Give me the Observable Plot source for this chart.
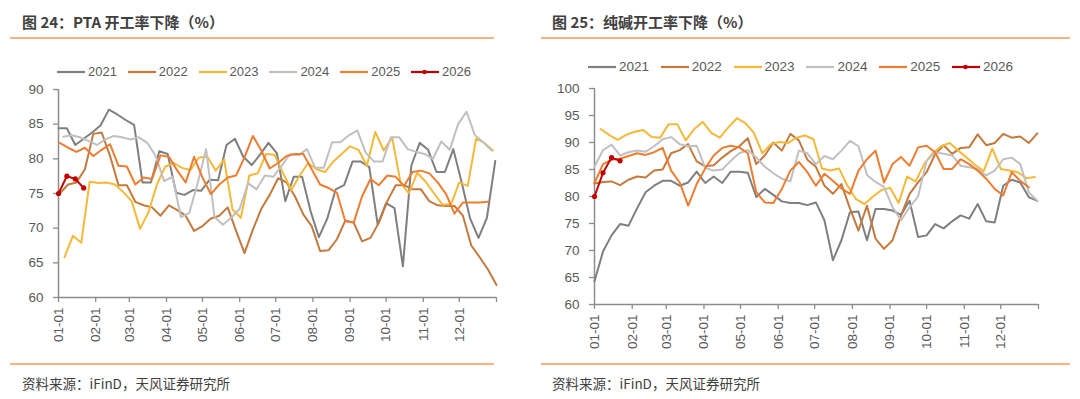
<!DOCTYPE html>
<html><head><meta charset="utf-8">
<script src="https://cdn.jsdelivr.net/npm/d3@7"></script>
<script src="https://cdn.jsdelivr.net/npm/@observablehq/plot@0.6"></script>
<style>
html,body{margin:0;padding:0;background:#fff;}
body{width:1080px;height:399px;position:relative;overflow:hidden;font-family:"Liberation Sans",Arial,sans-serif;}
.title{position:absolute;top:11px;font-family:"Noto Sans CJK SC","Noto Sans",sans-serif;font-weight:bold;font-size:15px;line-height:22px;color:#404040;white-space:nowrap;}
.rule{position:absolute;height:1.5px;background:#f4b183;}
.caption{position:absolute;top:373px;font-family:"Noto Sans CJK SC","Noto Sans",sans-serif;font-size:13.5px;line-height:20px;color:#404040;white-space:nowrap;}
.legend{position:absolute;height:14px;}
.legend .item{position:absolute;top:0;height:14px;display:flex;align-items:center;color:#595959;}
.legend .item span{margin-left:3px;line-height:14px;}
.chart{position:absolute;top:80px;}
</style>
</head><body>
<div class="title" style="left:22px">图 24：PTA 开工率下降（%）</div>
<div class="title" style="left:552px">图 25：纯碱开工率下降（%）</div>
<div class="rule" style="left:10px;width:484px;top:37px"></div>
<div class="rule" style="left:541px;width:529px;top:37px"></div>
<div class="legend" id="legL" style="left:0;top:65px"></div>
<div class="legend" id="legR" style="left:0;top:60px"></div>
<div class="chart" id="chartL" style="left:0"></div>
<div class="chart" id="chartR" style="left:540px"></div>
<div class="rule" style="left:10px;width:484px;top:363px"></div>
<div class="rule" style="left:541px;width:529px;top:363px"></div>
<div class="caption" style="left:22px">资料来源：iFinD，天风证券研究所</div>
<div class="caption" style="left:552px">资料来源：iFinD，天风证券研究所</div>
<script>
// ---- shared categories ----
const years = ["2021", "2022", "2023", "2024", "2025", "2026"];
const colors = ["#7f7f7f", "#c47a3e", "#f5b93a", "#c0c0c0", "#ed7d31", "#c00000"];
const monthLabels = ["01-01","02-01","03-01","04-01","05-01","06-01","07-01","08-01","09-01","10-01","11-01","12-01"];

// ---- PTA operating rate (%), weekly ----
const ptaStartDay = [0, 1, 5, 4, 1, 0];
const pta2021 = [84.4,84.4,82.0,82.9,83.8,84.8,87.1,86.4,85.6,84.9,76.6,76.6,81.1,80.7,75.1,74.8,75.5,75.4,77.0,76.9,82.0,82.9,80.3,79.1,80.6,82.3,80.8,73.9,77.4,77.4,72.5,68.7,71.4,75.6,76.2,79.6,79.6,78.8,70.5,73.6,72.9,64.5,79.0,82.3,81.3,78.1,78.1,81.4,76.6,71.4,68.6,71.5,79.7];
const pta2022 = [75.0,76.3,76.6,78.5,83.6,83.8,80.4,76.2,76.2,73.8,73.3,73.0,71.8,73.3,72.6,71.8,69.6,70.3,71.4,71.8,73.0,69.6,66.4,69.8,72.8,74.8,77.2,76.6,74.6,72.0,70.3,66.7,66.8,68.4,71.1,70.8,68.1,68.6,70.8,73.9,76.2,76.2,75.6,75.6,73.9,73.3,73.2,73.2,71.8,67.5,65.8,64.0,61.8];
const pta2023 = [65.8,68.9,67.9,76.7,76.5,76.6,76.3,75.2,73.9,69.9,72.3,76.3,78.9,79.4,78.7,78.4,80.2,80.3,78.3,79.9,72.7,71.5,77.6,77.9,80.7,80.6,78.0,75.5,77.6,79.4,78.5,78.1,79.6,80.7,81.8,81.3,79.0,83.9,81.2,83.1,76.6,75.0,78.0,76.7,75.0,73.4,73.4,76.6,76.1,82.9,82.3,81.2];
const pta2024 = [83.2,83.4,83.1,82.6,82.0,82.8,83.3,83.1,82.8,83.1,82.3,80.4,76.8,77.4,71.6,72.2,76.5,81.4,71.6,70.5,71.5,72.8,76.5,75.6,77.6,77.4,79.0,80.7,80.5,81.4,78.7,78.7,82.4,82.4,83.4,84.1,80.9,79.6,79.6,83.1,83.1,81.4,81.0,80.7,80.0,82.5,81.3,85.0,86.8,83.4,82.4,81.2];
const pta2025 = [82.3,81.6,81.0,81.6,80.4,81.3,82.1,79.0,78.9,76.3,77.3,77.1,80.5,80.3,78.3,76.6,80.3,77.3,74.9,76.3,77.3,77.6,80.2,83.3,81.2,78.6,79.4,80.4,80.7,80.7,78.5,76.3,75.8,75.1,71.0,70.8,74.6,77.1,76.2,77.6,77.4,76.1,78.1,78.3,77.9,76.6,74.9,72.1,73.7,73.7,73.7,73.8];
const pta2026 = [75.0,77.5,77.1,75.8];
const ptaTicks = [60, 65, 70, 75, 80, 85, 90];

// ---- Soda ash operating rate (%), weekly ----
const sodaStartDay = [0, 0, 5, 0, 0, 0];
const soda2021 = [64.3,69.8,72.8,74.9,74.6,77.8,80.8,82.0,82.9,82.9,82.0,82.6,84.6,82.5,83.7,82.5,84.6,84.6,84.4,79.9,81.4,80.3,79.1,78.8,78.8,78.4,78.9,75.6,68.2,71.9,77.1,77.2,71.9,77.7,77.7,77.4,76.6,79.2,72.5,72.8,74.9,74.1,75.4,76.5,75.9,78.6,75.4,75.2,82.0,83.1,82.6,79.9,79.2];
const soda2022 = [82.4,82.7,82.8,82.1,83.1,83.7,83.5,84.8,85.0,88.0,88.6,89.7,86.5,85.6,85.8,87.2,88.4,89.3,90.8,86.0,87.6,90.0,88.5,91.6,90.4,86.8,85.5,82.0,80.5,82.3,77.8,73.7,78.3,72.2,70.3,71.9,76.5,80.5,82.6,84.5,87.8,89.5,87.9,89.0,89.1,91.5,89.5,89.9,91.6,90.9,91.1,89.9,91.7];
const soda2023 = [92.5,91.4,90.5,91.4,92.0,92.3,91.0,90.9,93.4,93.4,90.4,92.5,93.8,91.8,90.9,92.8,94.5,93.6,91.8,88.0,89.7,90.1,89.9,90.9,91.3,90.6,85.2,84.8,85.2,82.0,79.5,78.6,80.0,81.2,81.6,78.8,83.7,82.8,86.0,88.0,89.3,89.9,88.5,87.2,85.8,84.7,88.9,85.1,84.8,84.5,83.4,83.6];
const soda2024 = [85.5,88.6,89.6,87.6,88.2,88.5,88.3,89.3,90.6,91.0,89.7,89.3,89.4,85.3,84.8,85.0,86.6,88.0,88.6,87.2,85.5,84.3,83.3,82.8,88.5,88.0,86.0,87.5,86.9,88.5,90.3,89.3,84.0,82.7,81.8,78.0,75.6,78.0,80.0,86.6,88.2,87.9,87.6,85.7,85.4,85.1,83.9,84.8,86.9,87.2,86.0,80.8,79.2];
const soda2025 = [82.5,86.0,86.8,87.0,87.5,88.0,87.7,88.2,89.0,84.8,82.6,78.3,82.3,85.2,87.6,89.0,89.4,89.1,88.0,80.8,78.9,78.8,81.4,84.8,86.4,84.5,82.0,84.2,82.9,81.5,80.5,84.8,86.9,88.5,82.6,86.0,87.3,85.7,89.1,89.4,88.2,85.1,85.1,86.9,86.0,84.8,83.3,81.4,80.2,84.5,82.9,81.7];
const soda2026 = [80.0,84.4,87.2,86.6];
const sodaTicks = [60, 65, 70, 75, 80, 85, 90, 95, 100];

function rows(seriesList, startDays) {
  const out = [];
  seriesList.forEach((vals, i) => {
    vals.forEach((v, k) => out.push({year: years[i], date: new Date(Date.UTC(2021, 0, 1 + startDays[i] + 7 * k)), value: v}));
  });
  return out;
}

const xStart = new Date(Date.UTC(2021, 0, 1));
const xEnd = new Date(Date.UTC(2022, 0, 1));
const xTicks = d3.utcMonths(xStart, xEnd).concat([xEnd]);

function chart(data, yTicks, m) {
  const yDom = [yTicks[0], yTicks[yTicks.length - 1]];
  return Plot.plot({
    width: 540, height: 270,
    marginLeft: m.left, marginRight: m.right, marginTop: m.top, marginBottom: m.bottom,
    style: {fontFamily: "Liberation Sans, Arial, sans-serif", fontSize: "13.5px", background: "transparent", overflow: "visible"},
    x: {type: "utc", domain: [xStart, xEnd]},
    y: {domain: yDom},
    color: {domain: years, range: colors},
    marks: [
      Plot.axisX({ticks: xTicks, tickFormat: (d, i) => monthLabels[i] ?? "", tickRotate: -90, tickSize: 5, tickPadding: 5, stroke: "#8c8c8c", strokeWidth: 1.3, fill: "#595959", label: null}),
      Plot.axisY({ticks: yTicks, tickSize: 5, tickPadding: 10, stroke: "#8c8c8c", strokeWidth: 1.3, fill: "#595959", label: null}),
      Plot.ruleY([yDom[0]], {stroke: "#8c8c8c", strokeWidth: 1.5}),
      Plot.ruleX([xStart], {stroke: "#8c8c8c", strokeWidth: 1.5}),
      Plot.lineY(data, {x: "date", y: "value", z: "year", stroke: "year", strokeWidth: 2, curve: "linear"}),
      Plot.dot(data.filter(d => d.year === "2026"), {x: "date", y: "value", fill: "#c00000", r: 2.6})
    ]
  });
}

const ptaData = rows([pta2021, pta2022, pta2023, pta2024, pta2025, pta2026], ptaStartDay);
const sodaData = rows([soda2021, soda2022, soda2023, soda2024, soda2025, soda2026], sodaStartDay);

document.getElementById("chartL").appendChild(chart(ptaData, ptaTicks, {left: 58, right: 44, top: 9, bottom: 53}));
document.getElementById("chartR").appendChild(chart(sodaData, sodaTicks, {left: 54, right: 42, top: 8, bottom: 46}));

function legend(el, x0, step, fontSize) {
  years.forEach((y, i) => {
    const it = document.createElement("div");
    it.className = "item";
    it.style.left = (x0 + step * i) + "px";
    it.style.fontSize = fontSize + "px";
    const dot = y === "2026" ? `<circle cx="13.5" cy="5" r="2.3" fill="${colors[i]}"/>` : "";
    it.innerHTML = `<svg width="28" height="10"><line x1="0" x2="28" y1="5" y2="5" stroke="${colors[i]}" stroke-width="2.2"/>${dot}</svg><span>${y}</span>`;
    el.appendChild(it);
  });
}
legend(document.getElementById("legL"), 57, 70.8, 13);
legend(document.getElementById("legR"), 588, 72.8, 13.5);
</script>
</body></html>
